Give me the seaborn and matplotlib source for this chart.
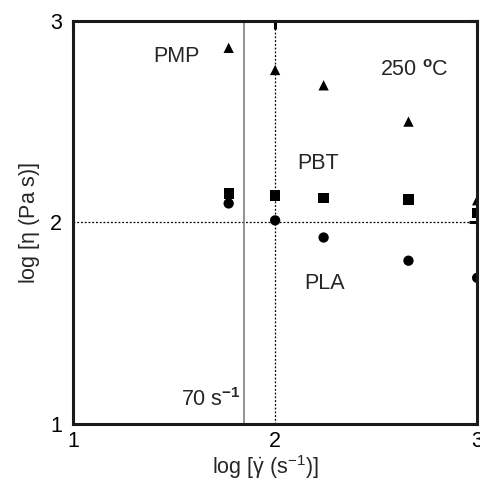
import matplotlib
matplotlib.use("Agg")
import matplotlib.pyplot as plt
import seaborn as sns
import pandas as pd

log_rate = [1.77, 2.0, 2.24, 2.66, 3.0]
pmp = [2.866, 2.756, 2.68, 2.50, 2.11]
pbt = [2.144, 2.134, 2.12, 2.114, 2.045]
pla = [2.094, 2.01, 1.925, 1.81, 1.725]
x_ticks = [1, 2, 3]
y_ticks = [1, 2, 3]

sns.set_style("white")
plt.rcParams['font.family'] = ['Liberation Sans', 'DejaVu Sans']
plt.rcParams['mathtext.fontset'] = 'custom'
plt.rcParams['mathtext.rm'] = 'Liberation Sans'
plt.rcParams['mathtext.it'] = 'Liberation Sans'
plt.rcParams['mathtext.bf'] = 'Liberation Sans:bold'

FS = 15.5
fig = plt.figure(figsize=(4.81, 4.84), dpi=100)
ax = fig.add_axes([0.152, 0.124, 0.84, 0.833])

df = pd.DataFrame({'x': log_rate * 3,
                   'y': pmp + pbt + pla,
                   'poly': ['PMP'] * 5 + ['PBT'] * 5 + ['PLA'] * 5})
sns.scatterplot(data=df, x='x', y='y', style='poly',
                markers={'PMP': '^', 'PBT': 's', 'PLA': 'o'},
                color='black', s=55, edgecolor='black', linewidth=0,
                legend=False, ax=ax)

ax.axhline(2, color='black', ls=(0, (1.5, 1.5)), lw=0.9, zorder=0)
ax.axvline(2, color='black', ls=(0, (1.5, 1.5)), lw=0.9, zorder=0)
ax.axvline(1.845, color='#808080', lw=1.2, zorder=0)

ax.set_xlim(1, 3)
ax.set_ylim(1, 3)
ax.set_xticks(x_ticks)
ax.set_yticks(y_ticks)
ax.set_xticklabels([str(v) for v in x_ticks])
ax.set_yticklabels([str(v) for v in y_ticks])
ax.tick_params(direction='in', length=6, width=2.2, labelsize=FS,
               top=True, right=True, pad=5, colors='black')
ax.tick_params(axis='y', pad=8)
for sp in ax.spines.values():
    sp.set_linewidth(2.2)
    sp.set_color('#1a1a1a')

ax.set_xlabel(r'log [$\dot{\gamma}$ (s$^{-1}$)]', fontsize=FS, labelpad=1)
ax.xaxis.set_label_coords(0.475, -0.072)
ax.set_ylabel(r'log [$\eta$ (Pa s)]', fontsize=FS, labelpad=6)

ax.text(1.51, 2.796, 'PMP', fontsize=FS, ha='center', va='baseline')
ax.text(2.69, 2.726, r'250 $^{\mathbf{o}}$C', fontsize=FS, ha='center', va='baseline')
ax.text(2.213, 2.264, 'PBT', fontsize=FS, ha='center', va='baseline')
ax.text(2.247, 1.672, 'PLA', fontsize=FS, ha='center', va='baseline')
ax.text(1.83, 1.09, r'70 s$^{\mathbf{-1}}$', fontsize=FS, ha='right', va='baseline')

fig.savefig('out.png', dpi=100)
